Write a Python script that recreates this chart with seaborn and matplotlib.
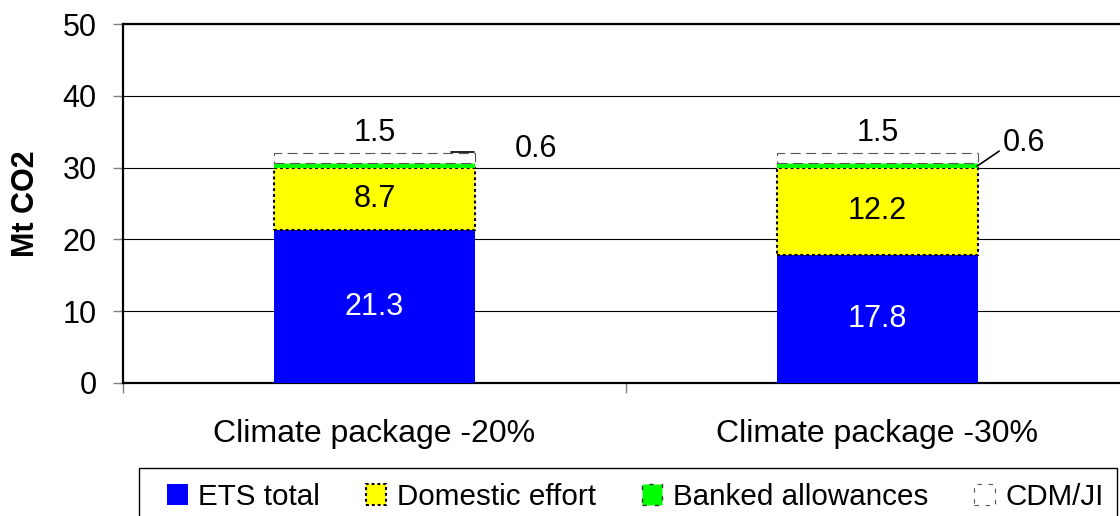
import numpy as np
import pandas as pd
import matplotlib
matplotlib.use("Agg")
import matplotlib.pyplot as plt
import seaborn as sns
from matplotlib.patches import Patch, Rectangle

scenarios = ["Climate package -20%", "Climate package -30%"]
ets_total = [21.3, 17.8]
domestic_effort = [8.7, 12.2]
banked_allowances = [0.6, 0.6]
cdm_ji = [1.5, 1.5]

series_names = ["ETS total", "Domestic effort", "Banked allowances", "CDM/JI"]

df = pd.DataFrame({
    "Scenario": scenarios,
    "ETS total": ets_total,
    "Domestic effort": domestic_effort,
    "Banked allowances": banked_allowances,
    "CDM/JI": cdm_ji,
})

sns.set_style("white")
plt.rcParams["font.family"] = ["Liberation Sans", "DejaVu Sans"]
plt.rcParams["text.color"] = "black"
plt.rcParams["axes.labelcolor"] = "black"
plt.rcParams["xtick.labelcolor"] = "black"
plt.rcParams["ytick.labelcolor"] = "black"

styles = {
    "ETS total": dict(color="#0000FF", edgecolor="none", linewidth=0),
    "Domestic effort": dict(color="#FFFF00", edgecolor="black", linewidth=1.5,
                            linestyle=(0, (1.4, 1.4))),
    "Banked allowances": dict(color="#00FF00", edgecolor="none", linewidth=0),
    "CDM/JI": dict(color="white", edgecolor="#555555", linewidth=0.8,
                   linestyle=(0, (9, 5))),
}

fig = plt.figure(figsize=(11.2, 5.16), dpi=100)
ax = fig.add_axes([123 / 1120, 133 / 516, 1006 / 1120, 359 / 516])

bottom = np.zeros(len(scenarios))
for name in series_names:
    sns.barplot(data=df, x="Scenario", y=name, width=0.4, ax=ax, saturation=1,
                bottom=bottom.copy(), zorder=3, **styles[name])
    bottom += df[name].to_numpy()

cum_ets = np.array(ets_total)
cum_dom = cum_ets + np.array(domestic_effort)
cum_bank = cum_dom + np.array(banked_allowances)
cum_top = cum_bank + np.array(cdm_ji)

fs = 22
for i in range(len(scenarios)):
    ax.text(i, ets_total[i] / 2, f"{ets_total[i]:.1f}", ha="center", va="center",
            color="white", fontsize=fs, zorder=5)
    ax.text(i, cum_ets[i] + domestic_effort[i] / 2, f"{domestic_effort[i]:.1f}",
            ha="center", va="center", color="black", fontsize=fs, zorder=5)
    ax.text(i, cum_top[i] + 2.7, f"{cdm_ji[i]:.1f}", ha="center", va="center",
            color="black", fontsize=fs, zorder=5)

# banked allowance labels with leader lines
ax.text(0.322, cum_top[0] + 0.5, f"{banked_allowances[0]:.1f}", ha="center",
        va="center", fontsize=fs, zorder=5)
ax.plot([0.153, 0.197], [cum_top[0] + 0.1, cum_top[0] + 0.1], color="black",
        lw=1.2, zorder=6)
ax.text(1.292, cum_top[1] + 1.3, f"{banked_allowances[1]:.1f}", ha="center",
        va="center", fontsize=fs, zorder=5)
ax.plot([1.198, 1.242], [cum_dom[1] + 0.2, cum_top[1] + 0.2], color="black",
        lw=1.2, zorder=6)

ax.set_ylim(0, 50)
ax.set_xlim(-0.5, 1.5)
ax.set_yticks([0, 10, 20, 30, 40, 50])
ax.yaxis.grid(True, color="black", linewidth=0.8)
ax.xaxis.grid(False)
ax.set_axisbelow(True)

for side in ["left", "bottom", "top"]:
    ax.spines[side].set_visible(True)
    ax.spines[side].set_color("black")
    ax.spines[side].set_linewidth(1.6)
ax.spines["right"].set_visible(False)

ax.tick_params(axis="y", which="major", direction="out", length=7, width=1,
               color="#808080", labelcolor="black", labelsize=22, pad=12, left=True)
ax.set_xticks([0, 1])
ax.set_xticklabels(scenarios)
ax.set_xticks([-0.5, 0.5, 1.5], minor=True)
ax.tick_params(axis="x", which="major", length=0, labelsize=23, pad=26,
               labelcolor="black")
ax.tick_params(axis="x", which="minor", direction="out", length=7, width=1,
               color="#808080", bottom=True)

ax.set_xlabel("")
ax.set_ylabel("Mt CO2", fontsize=22, fontweight="bold", color="black")
ax.yaxis.set_label_coords(-0.082, 0.5)

# legend box (frame drawn separately, runs off the bottom of the image)
fig.patches.append(Rectangle((139 / 1120, -0.05), (1117 - 139) / 1120,
                             0.05 + (516 - 468) / 516, transform=fig.transFigure,
                             fill=False, edgecolor="black", linewidth=1.0))

handles = [
    Patch(facecolor="#0000FF", edgecolor="none", label="ETS total"),
    Patch(facecolor="#FFFF00", edgecolor="black", linewidth=1.5,
          linestyle=(0, (1.4, 1.4)), label="Domestic effort"),
    Patch(facecolor="#00FF00", edgecolor="#333333", linewidth=1.0,
          linestyle=(0, (3, 6)), label="Banked allowances"),
    Patch(facecolor="white", edgecolor="#555555", linewidth=0.8,
          linestyle=(0, (4, 6)), label="CDM/JI"),
]
leg = fig.legend(handles=handles, ncol=4, loc="center left",
                 bbox_to_anchor=(167 / 1120, 1 - 497 / 516),
                 fontsize=21.3, frameon=False,
                 handlelength=0.7, handleheight=0.7, handletextpad=0.35,
                 columnspacing=1.55, borderpad=0, borderaxespad=0)
for t in leg.get_texts():
    t.set_color("black")

fig.savefig("out.png", dpi=100)
